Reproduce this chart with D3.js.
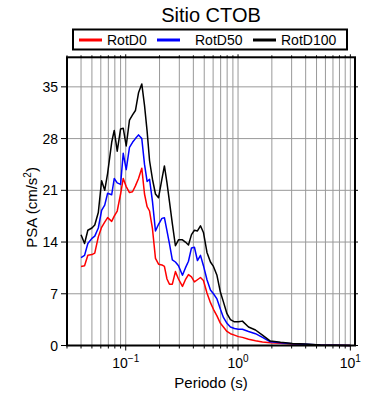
<!DOCTYPE html>
<html>
<head>
<meta charset="utf-8">
<script src="https://cdn.jsdelivr.net/npm/d3@7"></script>
<style>
  body { margin: 0; background: #fff; }
  text { font-family: "Liberation Sans", Arial, Helvetica, sans-serif; fill: #000; }
</style>
</head>
<body>
<div id="chart"></div>
<script>
// periods (s)
const periods = [0.040, 0.043, 0.046, 0.050, 0.053, 0.057, 0.061, 0.065, 0.069, 0.075,
  0.079, 0.084, 0.090, 0.095, 0.101, 0.108, 0.115, 0.122, 0.130, 0.139,
  0.147, 0.155, 0.163, 0.173, 0.184, 0.196, 0.210, 0.221, 0.233, 0.245,
  0.260, 0.277, 0.295, 0.320, 0.340, 0.362, 0.385, 0.409, 0.435, 0.463,
  0.492, 0.529, 0.568, 0.604, 0.649, 0.697, 0.741, 0.797, 0.856, 0.929,
  1.008, 1.094, 1.24, 1.43, 1.65, 1.94, 2.39, 3.05, 3.98, 5.42, 7.37, 10.0];

const rotD0 = [10.7, 10.8, 12.2, 12.3, 12.5, 14.7, 16.0, 16.7, 17.3, 16.8,
  17.5, 18.2, 20.5, 22.6, 21.5, 20.7, 20.8, 21.6, 22.6, 24.0,
  20.5, 18.8, 18.2, 15.8, 11.8, 11.0, 10.9, 10.7, 9.0, 8.3,
  8.3, 10.0, 9.0, 8.0, 8.9, 9.6, 9.3, 8.6, 8.9, 9.2,
  8.8, 7.1, 5.8, 4.9, 4.0, 3.0, 2.5, 1.9, 1.6, 1.4,
  1.2, 1.1, 0.85, 0.65, 0.48, 0.38, 0.3, 0.2, 0.1, 0.05, 0.02, 0.01];

const rotD50 = [11.9, 12.2, 13.8, 14.5, 14.8, 15.9, 18.3, 19.0, 20.6, 20.4,
  22.6, 22.0, 21.8, 26.0, 23.8, 26.8, 27.5, 28.0, 28.5, 28.0,
  24.5, 22.2, 22.5, 19.5, 15.5, 16.4, 17.2, 17.3, 15.5, 13.8,
  11.6, 11.3, 10.8, 9.5, 10.5, 11.4, 13.2, 13.3, 11.5, 12.2,
  10.8, 8.9, 7.5, 7.0, 6.3, 4.9, 3.8, 3.0, 2.5, 2.3,
  2.2, 2.2, 1.9, 1.6, 1.1, 0.5, 0.38, 0.25, 0.17, 0.07, 0.03, 0.01];

const rotD100 = [15.0, 13.8, 15.6, 15.9, 16.3, 18.0, 22.3, 21.0, 23.3, 27.5,
  29.1, 26.3, 29.3, 29.4, 27.0, 30.5, 31.2, 31.8, 34.2, 35.4,
  32.5, 29.0, 25.0, 22.5, 20.5, 20.0, 22.5, 24.3, 22.0, 19.5,
  16.5, 13.5, 14.3, 14.3, 14.0, 13.6, 15.0, 15.6, 15.5, 16.2,
  15.3, 12.6, 11.3, 10.7, 9.5, 7.2, 5.9, 4.3, 3.5, 3.2,
  3.2, 3.3, 2.5, 2.1, 1.4, 0.6, 0.43, 0.28, 0.2, 0.08, 0.03, 0.01];

const yTicks = [0, 7, 14, 21, 28, 35];
const xLabelExponents = [-1, 0, 1];
const seriesNames = ['RotD0', 'RotD50', 'RotD100'];
const seriesColors = ['#ff0000', '#0000ff', '#000000'];

const width = 390, height = 400;
const margin = { left: 67, right: 35, top: 57.3, bottom: 54.5 };

const svg = d3.select('#chart').append('svg')
  .attr('width', width).attr('height', height);

const x = d3.scaleLog().domain([0.03, 11]).range([margin.left, width - margin.right]);
const y = d3.scaleLinear().domain([0, 39]).range([height - margin.bottom, margin.top]);

const x0 = x.range()[0], x1 = x.range()[1];
const y0 = y.range()[0], y1 = y.range()[1];

// grid
const xGrid = x.ticks();
svg.append('g').selectAll('line').data(xGrid).enter().append('line')
  .attr('x1', d => x(d)).attr('x2', d => x(d))
  .attr('y1', y0).attr('y2', y1)
  .attr('stroke', '#999').attr('stroke-width', 1);
svg.append('g').selectAll('line').data(yTicks.slice(1)).enter().append('line')
  .attr('x1', x0).attr('x2', x1)
  .attr('y1', d => y(d)).attr('y2', d => y(d))
  .attr('stroke', '#999').attr('stroke-width', 1);

// curves
const allSeries = [rotD0, rotD50, rotD100];
const line = d3.line().x(d => x(d[0])).y(d => y(d[1]));
const plot = svg.append('g');
allSeries.forEach((vals, i) => {
  plot.append('path')
    .datum(periods.map((p, j) => [p, vals[j]]))
    .attr('d', line)
    .attr('fill', 'none')
    .attr('stroke', seriesColors[i])
    .attr('stroke-width', 1.5)
    .attr('stroke-linejoin', 'round');
});

// axes ticks (outside)
const isMajor = d => Math.abs(Math.log10(d) - Math.round(Math.log10(d))) < 1e-6;
svg.append('g').selectAll('line').data(xGrid).enter().append('line')
  .attr('x1', d => x(d)).attr('x2', d => x(d))
  .attr('y1', y0).attr('y2', d => y0 + (isMajor(d) ? 5 : 3))
  .attr('stroke', '#000').attr('stroke-width', 1);
svg.append('g').selectAll('line').data(xGrid).enter().append('line')
  .attr('x1', d => x(d)).attr('x2', d => x(d))
  .attr('y1', y1).attr('y2', d => y1 - (isMajor(d) ? 3 : 2))
  .attr('stroke', '#000').attr('stroke-width', 1);
svg.append('g').selectAll('line').data(yTicks).enter().append('line')
  .attr('x1', x0).attr('x2', x0 - 6)
  .attr('y1', d => y(d)).attr('y2', d => y(d))
  .attr('stroke', '#000').attr('stroke-width', 1);
svg.append('g').selectAll('line').data(yTicks).enter().append('line')
  .attr('x1', x1).attr('x2', x1 + 3)
  .attr('y1', d => y(d)).attr('y2', d => y(d))
  .attr('stroke', '#000').attr('stroke-width', 1);

// frame
svg.append('rect')
  .attr('x', x0).attr('y', y1)
  .attr('width', x1 - x0).attr('height', y0 - y1)
  .attr('fill', 'none').attr('stroke', '#000').attr('stroke-width', 2);

// tick labels
svg.append('g').selectAll('text').data(yTicks).enter().append('text')
  .attr('x', x0 - 9).attr('y', d => y(d) + 5)
  .attr('text-anchor', 'end').attr('font-size', 14)
  .text(d => d);

const xl = svg.append('g').selectAll('text').data(xLabelExponents).enter().append('text')
  .attr('x', d => x(Math.pow(10, d))).attr('y', 368)
  .attr('text-anchor', 'middle').attr('font-size', 14);
xl.append('tspan').text('10');
xl.append('tspan').attr('dy', -6).attr('font-size', 10)
  .text(d => d < 0 ? '\u2212' + Math.abs(d) : d);

// axis titles
svg.append('text')
  .attr('x', (x0 + x1) / 2).attr('y', 388)
  .attr('text-anchor', 'middle').attr('font-size', 15)
  .text('Periodo (s)');

const yl = svg.append('text')
  .attr('transform', `translate(37,${(y0 + y1) / 2 + 6}) rotate(-90)`)
  .attr('text-anchor', 'middle').attr('font-size', 15);
yl.append('tspan').text('PSA (cm/s');
yl.append('tspan').attr('dy', -6).attr('font-size', 10).text('2');
yl.append('tspan').attr('dy', 6).text(')');

// title
svg.append('text')
  .attr('x', (x0 + x1) / 2).attr('y', 22)
  .attr('text-anchor', 'middle').attr('font-size', 20)
  .text('Sitio CTOB');

// legend
const legend = svg.append('g');
legend.append('rect')
  .attr('x', 73).attr('y', 29.5).attr('width', 274).attr('height', 20)
  .attr('fill', '#fff').attr('stroke', '#000').attr('stroke-width', 2);
const legX = [79, 157, 253];
seriesNames.forEach((name, i) => {
  legend.append('line')
    .attr('x1', legX[i]).attr('x2', legX[i] + 23)
    .attr('y1', 40).attr('y2', 40)
    .attr('stroke', seriesColors[i]).attr('stroke-width', 3);
  legend.append('text')
    .attr('x', legX[i] + (i === 1 ? 38 : 28)).attr('y', 45)
    .attr('font-size', 14)
    .text(name);
});
</script>
</body>
</html>
